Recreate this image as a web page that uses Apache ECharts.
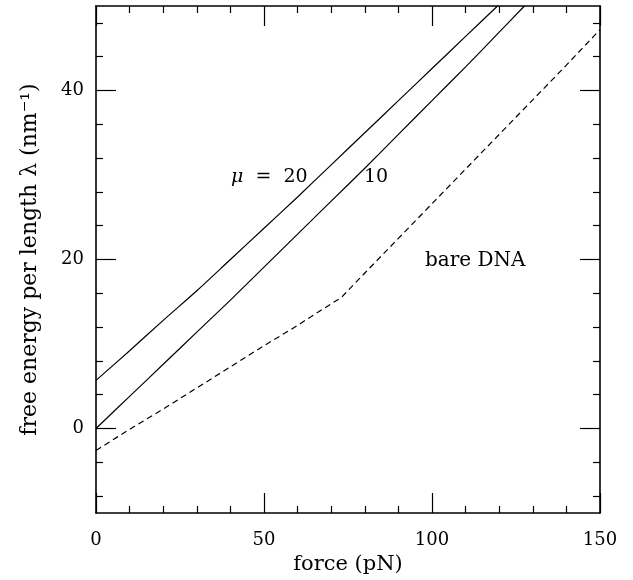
<!DOCTYPE html>
<html><head><meta charset="utf-8">
<script src="https://cdn.jsdelivr.net/npm/echarts@6/dist/echarts.min.js"></script>
<style>html,body{margin:0;padding:0;background:#fff}#c{width:633px;height:580px}</style>
</head><body><div id="c"></div>
<script>
// ---- data ----
const mu20Force  = [0, 10, 20, 30, 40, 50, 60, 70, 80, 90, 100, 110, 119.5];
const mu20Lambda = [5.7, 9.2, 12.8, 16.3, 20.0, 23.7, 27.4, 31.2, 35.0, 38.8, 42.6, 46.4, 50];
const mu10Force  = [0, 10, 20, 30, 40, 50, 60, 70, 80, 90, 100, 110, 120, 127.5];
const mu10Lambda = [0, 3.8, 7.6, 11.4, 15.2, 19.1, 23.0, 26.9, 30.8, 34.8, 38.8, 42.8, 46.9, 50];
const bareForce  = [0, 10, 20, 30, 40, 50, 60, 65, 73, 80, 90, 100, 110, 120, 130, 140, 150];
const bareLambda = [-2.6, -0.1, 2.3, 4.8, 7.3, 9.8, 12.2, 13.5, 15.5, 18.4, 22.5, 26.6, 30.7, 34.8, 38.9, 43.0, 47.2];
const yMajorTicks = [0, 20, 40];
const yMinorTicks = [-8, -4, 4, 8, 12, 16, 24, 28, 32, 36, 44, 48];
const xLabel = 'force (pN)';
const yLabel = 'free energy per length λ (nm⁻¹)';
const curveLabels = [
  {text: '{i|μ}\u00a0\u00a0=\u00a0\u00a020', x: 231, y: 177, size: 19},
  {text: '10', x: 364, y: 177, size: 19},
  {text: 'bare DNA', x: 425, y: 261, size: 20}
];

const zip = (a, b) => a.map((v, i) => [v, b[i]]);
const FONT = 'DejaVu Serif';
const black = '#000';

const xBase = {
  type: 'value', min: 0, max: 150, interval: 50,
  axisLine: {show: true, onZero: false, lineStyle: {color: black, width: 1.6}},
  axisTick: {show: true, inside: true, length: 20, lineStyle: {color: black, width: 1.2}},
  minorTick: {show: true, splitNumber: 5, length: 7, lineStyle: {color: black, width: 1.2}},
  splitLine: {show: false}
};
const yMajor = (pos, labels) => ({
  type: 'value', position: pos, offset: 0, min: -10, max: 50,
  axisLine: {show: true, onZero: false, lineStyle: {color: black, width: 1.6}},
  axisTick: {show: true, inside: true, length: 20, customValues: yMajorTicks, lineStyle: {color: black, width: 1.2}},
  axisLabel: labels ? {show: true, customValues: yMajorTicks, margin: 12, color: black, fontFamily: FONT, fontSize: 18} : {show: false},
  splitLine: {show: false}
});
const yMinor = (pos) => ({
  type: 'value', position: pos, offset: 0, min: -10, max: 50,
  axisLine: {show: false, onZero: false},
  axisTick: {show: true, inside: true, length: 7, customValues: yMinorTicks, lineStyle: {color: black, width: 1.2}},
  axisLabel: {show: false},
  splitLine: {show: false}
});

const yLeft = yMajor('left', true);
Object.assign(yLeft, {
  name: yLabel, nameLocation: 'middle', nameGap: 55, nameRotate: 90,
  nameTextStyle: {color: black, fontFamily: FONT, fontSize: 22}
});

const chart = echarts.init(document.getElementById('c'), null, {renderer: 'canvas'});
chart.setOption({
  animation: false,
  backgroundColor: '#fff',
  grid: {left: 96, right: 33, top: 6, bottom: 67, containLabel: false},
  xAxis: [
    Object.assign({}, xBase, {
      position: 'bottom',
      axisLabel: {show: true, margin: 18, color: black, fontFamily: FONT, fontSize: 18},
      name: xLabel, nameLocation: 'middle', nameGap: 40,
      nameTextStyle: {color: black, fontFamily: FONT, fontSize: 21}
    }),
    Object.assign({}, xBase, {position: 'top', axisLabel: {show: false}})
  ],
  yAxis: [yLeft, yMinor('left'), yMajor('right', false), yMinor('right')],
  series: [
    {type: 'line', name: 'μ = 20', data: zip(mu20Force, mu20Lambda), smooth: 0.3, showSymbol: false,
     lineStyle: {color: black, width: 1.2}, xAxisIndex: 0, yAxisIndex: 0},
    {type: 'line', name: 'μ = 10', data: zip(mu10Force, mu10Lambda), smooth: 0.3, showSymbol: false,
     lineStyle: {color: black, width: 1.2}, xAxisIndex: 0, yAxisIndex: 0},
    {type: 'line', name: 'bare DNA', data: zip(bareForce, bareLambda), smooth: false, showSymbol: false,
     lineStyle: {color: black, width: 1.2, type: [6, 4]}, xAxisIndex: 0, yAxisIndex: 0}
  ],
  graphic: curveLabels.map(l => ({
    type: 'text', x: l.x, y: l.y,
    style: {
      text: l.text, fill: black, font: l.size + 'px "' + FONT + '"', verticalAlign: 'middle', align: 'left',
      rich: {i: {fontStyle: 'italic', fontFamily: FONT, fontSize: l.size, fill: black}}
    }
  }))
});
</script>
</body></html>
